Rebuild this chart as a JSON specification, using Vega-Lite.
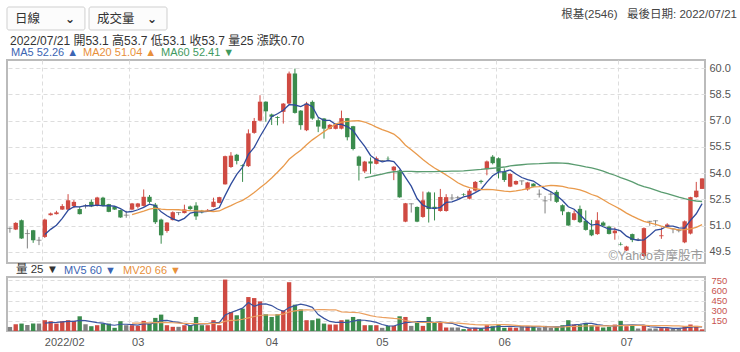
{
"$schema": "https://vega.github.io/schema/vega-lite/v6.json",
"background": "white",
"padding": {"left": 6, "top": 6, "right": 0, "bottom": 0},
"spacing": 0,
"resolve": {"scale": {"x": "independent", "y": "independent", "color": "independent"}, "legend": {"color": "independent"}, "axis": {"x": "independent", "y": "independent"}},
"config": {
  "font": "Liberation Sans, Noto Sans CJK TC, sans-serif",
  "view": {"stroke": "#bbbbbb", "strokeWidth": 2},
  "axis": {"gridColor": "#dddddd", "gridDash": [4, 3], "ticks": false, "domain": false, "labelColor": "#555555", "labelFontSize": 11, "labelOverlap": false, "title": null}
},
"datasets": {"k": [
{"date":"2022-01-19","open":50.85,"high":50.9,"low":50.6,"close":50.85,"volume":60},
{"date":"2022-01-20","open":50.78,"high":51.2,"low":50.75,"close":51.16,"volume":100},
{"date":"2022-01-21","open":51.31,"high":51.35,"low":50.25,"close":50.27,"volume":110},
{"date":"2022-01-24","open":50.55,"high":50.78,"low":49.7,"close":50.55,"volume":90},
{"date":"2022-01-25","open":50.74,"high":50.76,"low":50.02,"close":50.17,"volume":110},
{"date":"2022-01-26","open":50.17,"high":50.36,"low":49.89,"close":50.17,"volume":110},
{"date":"2022-02-07","open":50.36,"high":51.4,"low":50.3,"close":51.35,"volume":160,"ma5":50.50,"mv5":116},
{"date":"2022-02-08","open":51.6,"high":51.75,"low":51.58,"close":51.7,"volume":145,"ma5":50.79,"mv5":123},
{"date":"2022-02-09","open":51.66,"high":51.85,"low":51.64,"close":51.76,"volume":110,"ma5":51.03,"mv5":127},
{"date":"2022-02-10","open":51.92,"high":52.23,"low":51.9,"close":52.12,"volume":145,"ma5":51.42,"mv5":134},
{"date":"2022-02-11","open":51.92,"high":52.8,"low":51.9,"close":52.45,"volume":160,"ma5":51.88,"mv5":144},
{"date":"2022-02-14","open":52.12,"high":52.46,"low":52.0,"close":52.36,"volume":150,"ma5":52.08,"mv5":142},
{"date":"2022-02-15","open":51.95,"high":52.08,"low":51.64,"close":51.66,"volume":218,"ma5":52.07,"mv5":157},
{"date":"2022-02-16","open":52.13,"high":52.23,"low":51.98,"close":52.13,"volume":100,"ma5":52.14,"mv5":155},
{"date":"2022-02-17","open":52.36,"high":52.5,"low":52.06,"close":52.1,"volume":71,"ma5":52.14,"mv5":140},
{"date":"2022-02-18","open":52.13,"high":52.65,"low":52.1,"close":52.61,"volume":86,"ma5":52.17,"mv5":125},
{"date":"2022-02-21","open":52.6,"high":52.65,"low":52.1,"close":52.13,"volume":110,"ma5":52.13,"mv5":117},
{"date":"2022-02-22","open":52.23,"high":52.25,"low":51.77,"close":51.79,"volume":110,"ma5":52.15,"mv5":95},
{"date":"2022-02-23","open":52.08,"high":52.1,"low":51.9,"close":51.92,"volume":47,"ma5":52.11,"mv5":85},
{"date":"2022-02-24","open":51.89,"high":51.92,"low":51.45,"close":51.47,"volume":145,"ma5":51.98,"mv5":100},
{"date":"2022-02-25","open":51.6,"high":51.85,"low":51.45,"close":51.6,"volume":86,"ma5":51.78,"mv5":100},
{"date":"2022-03-01","open":51.92,"high":52.3,"low":51.9,"close":52.27,"volume":86,"ma5":51.81,"ma20":51.63,"mv5":95,"mv20":117},
{"date":"2022-03-02","open":52.08,"high":52.3,"low":51.98,"close":52.27,"volume":76,"ma5":51.91,"ma20":51.73,"mv5":88,"mv20":116},
{"date":"2022-03-03","open":52.13,"high":53.07,"low":52.1,"close":52.65,"volume":150,"ma5":52.05,"ma20":51.83,"mv5":109,"mv20":119},
{"date":"2022-03-04","open":52.65,"high":52.75,"low":52.27,"close":52.36,"volume":110,"ma5":52.23,"ma20":51.94,"mv5":102,"mv20":119},
{"date":"2022-03-07","open":52.2,"high":52.3,"low":51.1,"close":51.2,"volume":194,"ma5":52.15,"ma20":52.00,"mv5":123,"mv20":123},
{"date":"2022-03-08","open":51.35,"high":51.4,"low":49.97,"close":50.45,"volume":243,"ma5":51.79,"ma20":51.95,"mv5":155,"mv20":127},
{"date":"2022-03-09","open":50.7,"high":51.2,"low":50.6,"close":51.18,"volume":86,"ma5":51.57,"ma20":51.92,"mv5":157,"mv20":124},
{"date":"2022-03-10","open":51.32,"high":51.82,"low":51.3,"close":51.77,"volume":62,"ma5":51.39,"ma20":51.92,"mv5":139,"mv20":122},
{"date":"2022-03-11","open":51.75,"high":51.77,"low":51.6,"close":51.75,"volume":62,"ma5":51.27,"ma20":51.91,"mv5":129,"mv20":118},
{"date":"2022-03-14","open":51.72,"high":52.2,"low":51.7,"close":51.93,"volume":86,"ma5":51.42,"ma20":51.88,"mv5":108,"mv20":114},
{"date":"2022-03-15","open":52.1,"high":52.15,"low":51.9,"close":51.95,"volume":86,"ma5":51.72,"ma20":51.86,"mv5":76,"mv20":111},
{"date":"2022-03-16","open":52.15,"high":52.34,"low":51.33,"close":51.53,"volume":208,"ma5":51.79,"ma20":51.85,"mv5":101,"mv20":110},
{"date":"2022-03-17","open":51.85,"high":51.9,"low":51.7,"close":51.77,"volume":86,"ma5":51.79,"ma20":51.84,"mv5":106,"mv20":110},
{"date":"2022-03-18","open":51.86,"high":51.95,"low":51.82,"close":51.9,"volume":86,"ma5":51.82,"ma20":51.83,"mv5":110,"mv20":110},
{"date":"2022-03-21","open":52.07,"high":52.6,"low":52.05,"close":52.37,"volume":160,"ma5":51.90,"ma20":51.81,"mv5":125,"mv20":114},
{"date":"2022-03-22","open":52.3,"high":52.65,"low":52.28,"close":52.63,"volume":86,"ma5":52.04,"ma20":51.84,"mv5":125,"mv20":113},
{"date":"2022-03-23","open":53.36,"high":55.0,"low":53.35,"close":54.97,"volume":762,"ma5":52.73,"ma20":52.00,"mv5":236,"mv20":145},
{"date":"2022-03-24","open":54.35,"high":55.2,"low":54.3,"close":55.0,"volume":282,"ma5":53.37,"ma20":52.15,"mv5":275,"mv20":157},
{"date":"2022-03-25","open":55.05,"high":55.1,"low":54.5,"close":54.7,"volume":233,"ma5":53.93,"ma20":52.31,"mv5":305,"mv20":162},
{"date":"2022-03-28","open":54.45,"high":54.5,"low":53.5,"close":54.4,"volume":331,"ma5":54.34,"ma20":52.45,"mv5":339,"mv20":174},
{"date":"2022-03-29","open":54.4,"high":56.5,"low":54.35,"close":56.27,"volume":503,"ma5":55.07,"ma20":52.65,"mv5":422,"mv20":195},
{"date":"2022-03-30","open":56.3,"high":57.15,"low":56.25,"close":56.98,"volume":488,"ma5":55.47,"ma20":52.89,"mv5":367,"mv20":215},
{"date":"2022-03-31","open":57.0,"high":58.45,"low":56.95,"close":58.08,"volume":439,"ma5":56.09,"ma20":53.16,"mv5":399,"mv20":230},
{"date":"2022-04-01","open":58.08,"high":58.1,"low":56.93,"close":57.53,"volume":248,"ma5":56.65,"ma20":53.42,"mv5":402,"mv20":237},
{"date":"2022-04-06","open":57.35,"high":57.4,"low":56.75,"close":57.22,"volume":208,"ma5":57.22,"ma20":53.72,"mv5":377,"mv20":237},
{"date":"2022-04-07","open":57.2,"high":57.25,"low":56.73,"close":57.15,"volume":248,"ma5":57.39,"ma20":54.05,"mv5":326,"mv20":238},
{"date":"2022-04-08","open":57.5,"high":58.0,"low":56.83,"close":57.97,"volume":306,"ma5":57.59,"ma20":54.39,"mv5":290,"mv20":249},
{"date":"2022-04-11","open":57.97,"high":59.8,"low":57.9,"close":59.69,"volume":723,"ma5":57.91,"ma20":54.79,"mv5":347,"mv20":282},
{"date":"2022-04-12","open":59.69,"high":59.97,"low":57.4,"close":57.44,"volume":390,"ma5":57.89,"ma20":55.07,"mv5":375,"mv20":298},
{"date":"2022-04-13","open":57.57,"high":57.6,"low":56.48,"close":56.74,"volume":321,"ma5":57.80,"ma20":55.31,"mv5":398,"mv20":310},
{"date":"2022-04-14","open":56.45,"high":58.07,"low":56.4,"close":57.97,"volume":160,"ma5":57.96,"ma20":55.62,"mv5":380,"mv20":313},
{"date":"2022-04-15","open":58.07,"high":58.15,"low":57.05,"close":57.12,"volume":160,"ma5":57.79,"ma20":55.90,"mv5":351,"mv20":311},
{"date":"2022-04-18","open":57.02,"high":57.16,"low":56.34,"close":56.66,"volume":184,"ma5":57.19,"ma20":56.14,"mv5":243,"mv20":316},
{"date":"2022-04-19","open":57.12,"high":57.15,"low":55.97,"close":56.54,"volume":110,"ma5":57.01,"ma20":56.37,"mv5":187,"mv20":317},
{"date":"2022-04-20","open":56.53,"high":56.8,"low":56.5,"close":56.76,"volume":96,"ma5":57.01,"ma20":56.59,"mv5":142,"mv20":314},
{"date":"2022-04-21","open":56.53,"high":56.85,"low":56.5,"close":56.8,"volume":96,"ma5":56.78,"ma20":56.80,"mv5":129,"mv20":314},
{"date":"2022-04-22","open":56.54,"high":57.57,"low":56.5,"close":57.14,"volume":160,"ma5":56.78,"ma20":56.91,"mv5":129,"mv20":284},
{"date":"2022-04-25","open":57.14,"high":57.15,"low":55.87,"close":56.05,"volume":169,"ma5":56.66,"ma20":56.96,"mv5":126,"mv20":279},
{"date":"2022-04-26","open":56.68,"high":56.7,"low":55.3,"close":55.38,"volume":208,"ma5":56.43,"ma20":56.99,"mv5":146,"mv20":277},
{"date":"2022-04-27","open":54.95,"high":55.0,"low":53.58,"close":54.42,"volume":174,"ma5":55.96,"ma20":57.00,"mv5":161,"mv20":270},
{"date":"2022-04-28","open":54.1,"high":54.7,"low":54.0,"close":54.66,"volume":86,"ma5":55.53,"ma20":56.92,"ma60":53.73,"mv5":159,"mv20":249},
{"date":"2022-04-29","open":54.67,"high":54.9,"low":53.96,"close":54.55,"volume":86,"ma5":55.01,"ma20":56.79,"ma60":53.80,"mv5":145,"mv20":229},
{"date":"2022-05-03","open":54.53,"high":54.95,"low":54.5,"close":54.85,"volume":86,"ma5":54.77,"ma20":56.63,"ma60":53.88,"mv5":128,"mv20":211},
{"date":"2022-05-04","open":54.72,"high":54.75,"low":54.68,"close":54.72,"volume":47,"ma5":54.64,"ma20":56.49,"ma60":53.95,"mv5":96,"mv20":201},
{"date":"2022-05-05","open":54.82,"high":54.95,"low":54.7,"close":54.8,"volume":76,"ma5":54.72,"ma20":56.37,"ma60":54.03,"mv5":76,"mv20":194},
{"date":"2022-05-06","open":54.15,"high":54.4,"low":53.6,"close":54.37,"volume":76,"ma5":54.66,"ma20":56.23,"ma60":54.08,"mv5":74,"mv20":186},
{"date":"2022-05-09","open":54.15,"high":54.2,"low":52.6,"close":52.62,"volume":218,"ma5":54.27,"ma20":55.96,"ma60":54.09,"mv5":101,"mv20":181},
{"date":"2022-05-10","open":51.23,"high":52.3,"low":51.2,"close":52.28,"volume":208,"ma5":53.76,"ma20":55.59,"ma60":54.10,"mv5":125,"mv20":156},
{"date":"2022-05-11","open":52.25,"high":52.27,"low":51.75,"close":52.25,"volume":76,"ma5":53.26,"ma20":55.33,"ma60":54.10,"mv5":131,"mv20":140},
{"date":"2022-05-12","open":52.07,"high":52.1,"low":51.2,"close":51.23,"volume":125,"ma5":52.55,"ma20":55.06,"ma60":54.08,"mv5":141,"mv20":130},
{"date":"2022-05-13","open":51.5,"high":52.95,"low":51.45,"close":52.45,"volume":76,"ma5":52.17,"ma20":54.78,"ma60":54.09,"mv5":141,"mv20":126},
{"date":"2022-05-16","open":52.9,"high":52.95,"low":51.18,"close":51.95,"volume":208,"ma5":52.03,"ma20":54.52,"ma60":54.09,"mv5":139,"mv20":128},
{"date":"2022-05-17","open":52.08,"high":52.9,"low":51.3,"close":52.0,"volume":135,"ma5":51.98,"ma20":54.29,"ma60":54.09,"mv5":124,"mv20":126},
{"date":"2022-05-18","open":51.84,"high":53.1,"low":51.8,"close":52.64,"volume":125,"ma5":52.05,"ma20":54.10,"ma60":54.10,"mv5":134,"mv20":127},
{"date":"2022-05-19","open":51.84,"high":52.8,"low":51.8,"close":52.63,"volume":52,"ma5":52.33,"ma20":53.89,"ma60":54.10,"mv5":119,"mv20":124},
{"date":"2022-05-20","open":52.58,"high":52.8,"low":52.45,"close":52.58,"volume":52,"ma5":52.36,"ma20":53.68,"ma60":54.11,"mv5":114,"mv20":122},
{"date":"2022-05-23","open":52.6,"high":52.7,"low":52.5,"close":52.6,"volume":52,"ma5":52.49,"ma20":53.45,"ma60":54.12,"mv5":83,"mv20":117},
{"date":"2022-05-24","open":52.8,"high":52.85,"low":52.7,"close":52.77,"volume":28,"ma5":52.64,"ma20":53.29,"ma60":54.13,"mv5":62,"mv20":110},
{"date":"2022-05-25","open":52.54,"high":53.1,"low":52.5,"close":53.0,"volume":37,"ma5":52.72,"ma20":53.17,"ma60":54.16,"mv5":44,"mv20":101},
{"date":"2022-05-26","open":53.0,"high":53.55,"low":52.95,"close":53.5,"volume":47,"ma5":52.89,"ma20":53.12,"ma60":54.19,"mv5":43,"mv20":95},
{"date":"2022-05-27","open":53.56,"high":53.62,"low":53.4,"close":53.5,"volume":37,"ma5":53.07,"ma20":53.06,"ma60":54.21,"mv5":40,"mv20":92},
{"date":"2022-05-30","open":54.23,"high":54.72,"low":53.88,"close":54.67,"volume":86,"ma5":53.49,"ma20":53.07,"ma60":54.25,"mv5":47,"mv20":92},
{"date":"2022-05-31","open":54.94,"high":55.03,"low":54.5,"close":54.57,"volume":71,"ma5":53.85,"ma20":53.06,"ma60":54.28,"mv5":56,"mv20":92},
{"date":"2022-06-01","open":54.85,"high":54.9,"low":53.7,"close":54.08,"volume":96,"ma5":54.06,"ma20":53.02,"ma60":54.31,"mv5":67,"mv20":94},
{"date":"2022-06-02","open":54.08,"high":54.27,"low":53.5,"close":53.61,"volume":47,"ma5":54.09,"ma20":52.97,"ma60":54.35,"mv5":67,"mv20":93},
{"date":"2022-06-06","open":53.23,"high":54.0,"low":53.2,"close":53.95,"volume":52,"ma5":54.18,"ma20":52.94,"ma60":54.41,"mv5":70,"mv20":91},
{"date":"2022-06-07","open":53.36,"high":53.58,"low":53.32,"close":53.55,"volume":47,"ma5":53.95,"ma20":52.99,"ma60":54.45,"mv5":63,"mv20":83},
{"date":"2022-06-08","open":53.56,"high":53.57,"low":53.32,"close":53.56,"volume":71,"ma5":53.75,"ma20":53.05,"ma60":54.48,"mv5":63,"mv20":76},
{"date":"2022-06-09","open":53.07,"high":53.5,"low":53.0,"close":53.47,"volume":71,"ma5":53.63,"ma20":53.12,"ma60":54.51,"mv5":58,"mv20":76},
{"date":"2022-06-10","open":53.4,"high":53.42,"low":53.2,"close":53.23,"volume":71,"ma5":53.55,"ma20":53.22,"ma60":54.53,"mv5":62,"mv20":73},
{"date":"2022-06-13","open":52.8,"high":53.07,"low":52.61,"close":52.8,"volume":47,"ma5":53.32,"ma20":53.23,"ma60":54.54,"mv5":61,"mv20":72},
{"date":"2022-06-14","open":52.42,"high":52.69,"low":51.7,"close":52.42,"volume":76,"ma5":53.10,"ma20":53.26,"ma60":54.56,"mv5":67,"mv20":65},
{"date":"2022-06-15","open":52.8,"high":52.95,"low":52.4,"close":52.8,"volume":47,"ma5":52.94,"ma20":53.30,"ma60":54.58,"mv5":62,"mv20":61},
{"date":"2022-06-16","open":52.93,"high":53.03,"low":52.3,"close":52.36,"volume":62,"ma5":52.72,"ma20":53.28,"ma60":54.58,"mv5":61,"mv20":57},
{"date":"2022-06-17","open":52.17,"high":52.22,"low":51.6,"close":51.82,"volume":86,"ma5":52.44,"ma20":53.24,"ma60":54.57,"mv5":64,"mv20":59},
{"date":"2022-06-20","open":51.77,"high":51.8,"low":51.0,"close":51.01,"volume":160,"ma5":52.08,"ma20":53.16,"ma60":54.55,"mv5":86,"mv20":65},
{"date":"2022-06-21","open":51.33,"high":51.87,"low":51.3,"close":51.71,"volume":96,"ma5":51.94,"ma20":53.12,"ma60":54.49,"mv5":90,"mv20":67},
{"date":"2022-06-22","open":51.96,"high":52.15,"low":51.15,"close":51.2,"volume":96,"ma5":51.62,"ma20":53.04,"ma60":54.43,"mv5":100,"mv20":70},
{"date":"2022-06-23","open":51.28,"high":51.87,"low":50.72,"close":50.76,"volume":120,"ma5":51.30,"ma20":52.93,"ma60":54.36,"mv5":112,"mv20":74},
{"date":"2022-06-24","open":50.77,"high":51.33,"low":50.4,"close":50.45,"volume":86,"ma5":51.03,"ma20":52.78,"ma60":54.30,"mv5":112,"mv20":76},
{"date":"2022-06-27","open":50.52,"high":51.77,"low":50.48,"close":51.31,"volume":70,"ma5":51.09,"ma20":52.67,"ma60":54.22,"mv5":94,"mv20":78},
{"date":"2022-06-28","open":51.18,"high":51.25,"low":50.97,"close":51.0,"volume":52,"ma5":50.94,"ma20":52.48,"ma60":54.12,"mv5":85,"mv20":76},
{"date":"2022-06-29","open":50.95,"high":51.0,"low":50.5,"close":50.53,"volume":62,"ma5":50.81,"ma20":52.28,"ma60":53.99,"mv5":78,"mv20":76},
{"date":"2022-06-30","open":50.57,"high":50.9,"low":50.2,"close":50.72,"volume":95,"ma5":50.80,"ma20":52.11,"ma60":53.88,"mv5":73,"mv20":76},
{"date":"2022-07-01","open":49.95,"high":50.05,"low":49.87,"close":49.92,"volume":150,"ma5":50.70,"ma20":51.93,"ma60":53.75,"mv5":86,"mv20":81},
{"date":"2022-07-04","open":49.58,"high":49.85,"low":49.55,"close":49.81,"volume":71,"ma5":50.40,"ma20":51.72,"ma60":53.63,"mv5":86,"mv20":82},
{"date":"2022-07-05","open":50.52,"high":50.55,"low":50.06,"close":50.18,"volume":80,"ma5":50.23,"ma20":51.55,"ma60":53.50,"mv5":92,"mv20":83},
{"date":"2022-07-06","open":50.2,"high":50.3,"low":50.12,"close":50.2,"volume":37,"ma5":50.17,"ma20":51.39,"ma60":53.34,"mv5":87,"mv20":82},
{"date":"2022-07-07","open":49.27,"high":50.9,"low":49.2,"close":50.86,"volume":90,"ma5":50.19,"ma20":51.25,"ma60":53.23,"mv5":86,"mv20":83},
{"date":"2022-07-08","open":51.25,"high":51.27,"low":51.0,"close":51.25,"volume":37,"ma5":50.46,"ma20":51.16,"ma60":53.14,"mv5":63,"mv20":81},
{"date":"2022-07-11","open":51.28,"high":51.3,"low":51.0,"close":51.28,"volume":37,"ma5":50.75,"ma20":51.08,"ma60":53.03,"mv5":56,"mv20":81},
{"date":"2022-07-12","open":50.4,"high":50.9,"low":50.25,"close":50.45,"volume":42,"ma5":50.81,"ma20":50.98,"ma60":52.92,"mv5":49,"mv20":79},
{"date":"2022-07-13","open":50.95,"high":51.14,"low":50.9,"close":51.07,"volume":42,"ma5":50.98,"ma20":50.89,"ma60":52.83,"mv5":50,"mv20":79},
{"date":"2022-07-14","open":50.82,"high":50.84,"low":50.57,"close":50.82,"volume":37,"ma5":50.97,"ma20":50.82,"ma60":52.73,"mv5":39,"mv20":77},
{"date":"2022-07-15","open":50.72,"high":50.82,"low":50.62,"close":50.72,"volume":37,"ma5":50.87,"ma20":50.76,"ma60":52.63,"mv5":39,"mv20":75},
{"date":"2022-07-18","open":50.05,"high":51.3,"low":50.0,"close":51.25,"volume":70,"ma5":50.86,"ma20":50.77,"ma60":52.54,"mv5":46,"mv20":70},
{"date":"2022-07-19","open":50.55,"high":52.65,"low":50.5,"close":52.63,"volume":96,"ma5":51.30,"ma20":50.82,"ma60":52.46,"mv5":56,"mv20":70},
{"date":"2022-07-20","open":52.63,"high":53.5,"low":52.6,"close":53.0,"volume":76,"ma5":51.68,"ma20":50.91,"ma60":52.41,"mv5":63,"mv20":69},
{"date":"2022-07-21","open":53.1,"high":53.7,"low":53.1,"close":53.7,"volume":25,"ma5":52.26,"ma20":51.06,"ma60":52.38,"mv5":61,"mv20":65}
]},
"vconcat": [
{
  "width": 730, "height": 23,
  "data": {"values": [{"label": "日線"}, {"label": "成交量"}]},
  "view": {"stroke": null},
  "title": {"text": "根基(2546)\u00a0\u00a0\u00a0最後日期: 2022/07/21", "anchor": "end", "frame": "group", "offset": 0, "dy": 14, "fontSize": 11.5, "fontWeight": "normal", "color": "#444444"},
  "encoding": {"x": {"field": "label", "type": "nominal", "sort": null, "axis": null, "scale": {"range": [0, 160], "paddingInner": 0.05, "paddingOuter": 0}}},
  "layer": [
    {"mark": {"type": "bar", "fill": "#fcfcfc", "stroke": "#cfcfcf", "strokeWidth": 1, "cornerRadius": 2}},
    {"mark": {"type": "text", "align": "left", "dx": 8, "fontSize": 12.5, "color": "#333333"}, "encoding": {"x": {"field": "label", "type": "nominal", "sort": null, "bandPosition": 0}, "text": {"field": "label"}}},
    {"mark": {"type": "text", "align": "right", "dx": -10, "fontSize": 12, "fontWeight": "bold", "color": "#333333", "font": "DejaVu Sans", "text": "⌄"}, "encoding": {"x": {"field": "label", "type": "nominal", "sort": null, "bandPosition": 1}}}
  ]
},
{
  "width": 698, "height": 203,
  "data": {"name": "k"},
  "title": {"text": "©Yahoo奇摩股市", "orient": "bottom", "anchor": "end", "frame": "group", "offset": 0, "dy": -13, "dx": -2, "fontSize": 12.5, "fontWeight": "normal", "color": "#9a9a9a"},
  "encoding": {"x": {"field": "date", "type": "ordinal", "scale": {"paddingInner": 0.25, "paddingOuter": 0.125},
    "axis": {"values": ["2022-02-07","2022-03-01","2022-04-01","2022-05-03","2022-06-01","2022-07-01"], "bandPosition": 0, "labels": false, "grid": true, "title": null}}},
  "layer": [
    {"mark": {"type": "rule", "strokeWidth": 1},
     "encoding": {
       "y": {"field": "low", "type": "quantitative", "scale": {"domain": [48.87, 60.46], "nice": false, "zero": false},
             "axis": {"orient": "right", "values": [49.5, 51, 52.5, 54, 55.5, 57, 58.5, 60], "format": ".1f", "grid": true, "labelOverlap": false, "labelPadding": 4, "title": null}},
       "y2": {"field": "high"},
       "color": {"condition": [{"test": "datum.close > datum.open", "value": "#cf4a42"}, {"test": "datum.close < datum.open", "value": "#3a8b4c"}], "value": "#808080"}}},
    {"mark": {"type": "bar"},
     "encoding": {
       "y": {"field": "open", "type": "quantitative",
             "axis": {"orient": "right", "values": [49.5, 51, 52.5, 54, 55.5, 57, 58.5, 60], "format": ".1f", "grid": true, "labelOverlap": false, "labelPadding": 4, "title": null}},
       "y2": {"field": "close"},
       "color": {"condition": [{"test": "datum.close > datum.open", "value": "#cf4a42"}, {"test": "datum.close < datum.open", "value": "#3a8b4c"}], "value": "#808080"}}},
    {"transform": [{"filter": "datum.open == datum.close"}],
     "mark": {"type": "tick", "thickness": 1, "size": 5},
     "encoding": {"y": {"field": "close", "type": "quantitative",
             "axis": {"orient": "right", "values": [49.5, 51, 52.5, 54, 55.5, 57, 58.5, 60], "format": ".1f", "grid": true, "labelOverlap": false, "labelPadding": 4, "title": null}},
       "color": {"value": "#707070"}}},
    {"transform": [{"fold": ["ma5", "ma20", "ma60"], "as": ["series", "val"]}, {"filter": "isValid(datum.val)"}],
     "mark": {"type": "line", "strokeWidth": 1.3},
     "encoding": {
       "y": {"field": "val", "type": "quantitative",
             "axis": {"orient": "right", "values": [49.5, 51, 52.5, 54, 55.5, 57, 58.5, 60], "format": ".1f", "grid": true, "labelOverlap": false, "labelPadding": 4, "title": null}},
       "color": {"field": "series", "type": "nominal",
         "scale": {"domain": ["ma5", "ma20", "ma60"], "range": ["#2f4b9c", "#e99a4c", "#5a9c70"]},
         "legend": {"orient": "none", "legendX": 0, "legendY": -27.3, "padding": 3, "direction": "horizontal",
           "title": "2022/07/21 開53.1 高53.7 低53.1 收53.7 量25 漲跌0.70",
           "titleOrient": "top", "titleAnchor": "start", "titleFontSize": 12, "titleFontWeight": "normal", "titleColor": "#333333", "titlePadding": 0, "titleLimit": 600,
           "labelExpr": "datum.value == 'ma5' ? 'MA5 52.26 ▲' : datum.value == 'ma20' ? 'MA20 51.04 ▲' : 'MA60 52.41 ▼'",
           "labelColor": {"expr": "datum.value == 'ma5' ? '#3b64b3' : datum.value == 'ma20' ? '#e8903a' : '#3f9a5f'"},
           "labelFont": "Liberation Sans, DejaVu Sans, sans-serif",
           "labelFontSize": 11, "labelOffset": -10, "labelLimit": 300, "symbolSize": 0.01, "symbolStrokeWidth": 0, "symbolOpacity": 0, "columnPadding": 3}}}}
  ]
},
{
  "width": 698, "height": 54,
  "data": {"name": "k"},
  "encoding": {"x": {"field": "date", "type": "ordinal", "scale": {"paddingInner": 0.25, "paddingOuter": 0.125},
    "axis": {"values": ["2022-02-07","2022-03-01","2022-04-01","2022-05-03","2022-06-01","2022-07-01"], "bandPosition": 0, "grid": true,
      "labelExpr": "datum.value == '2022-02-07' ? '2022/02' : substring(datum.value, 5, 7)", "labelAlign": "left", "labelPadding": 5, "labelAngle": 0, "title": null}}},
  "layer": [
    {"mark": {"type": "bar"},
     "encoding": {
       "y": {"field": "volume", "type": "quantitative", "scale": {"domain": [0, 800], "nice": false},
             "axis": {"orient": "right", "values": [150, 300, 450, 600, 750], "grid": true, "labelOverlap": false, "labelFontSize": 9.5, "labelColor": "#c75450", "labelPadding": 6, "title": null}},
       "color": {"condition": [{"test": "datum.close > datum.open", "value": "#cf4a42"}, {"test": "datum.close < datum.open", "value": "#3a8b4c"}], "value": "#808080"}}},
    {"transform": [{"fold": ["mv5", "mv20"], "as": ["series", "val"]}, {"filter": "isValid(datum.val)"}],
     "mark": {"type": "line", "strokeWidth": 1.2},
     "encoding": {
       "y": {"field": "val", "type": "quantitative",
             "axis": {"orient": "right", "values": [150, 300, 450, 600, 750], "grid": true, "labelOverlap": false, "labelFontSize": 9.5, "labelColor": "#c75450", "labelPadding": 6, "title": null}},
       "color": {"field": "series", "type": "nominal",
         "scale": {"domain": ["mv5", "mv20"], "range": ["#3b55a0", "#eba060"]},
         "legend": {"orient": "none", "legendX": 9, "legendY": -11.7, "padding": 0, "direction": "horizontal",
           "title": "量 25 ▼", "titleOrient": "left", "titleFontSize": 11.5, "titleFontWeight": "normal", "titleColor": "#333333", "titlePadding": 0,
           "labelExpr": "datum.value == 'mv5' ? 'MV5 60 ▼' : 'MV20 66 ▼'",
           "labelColor": {"expr": "datum.value == 'mv5' ? '#3b64b3' : '#e8903a'"},
           "labelFont": "Liberation Sans, DejaVu Sans, sans-serif",
           "labelFontSize": 11, "labelOffset": -6, "symbolSize": 0.01, "symbolStrokeWidth": 0, "symbolOpacity": 0, "columnPadding": 2}}}}
  ]
}
]
}
